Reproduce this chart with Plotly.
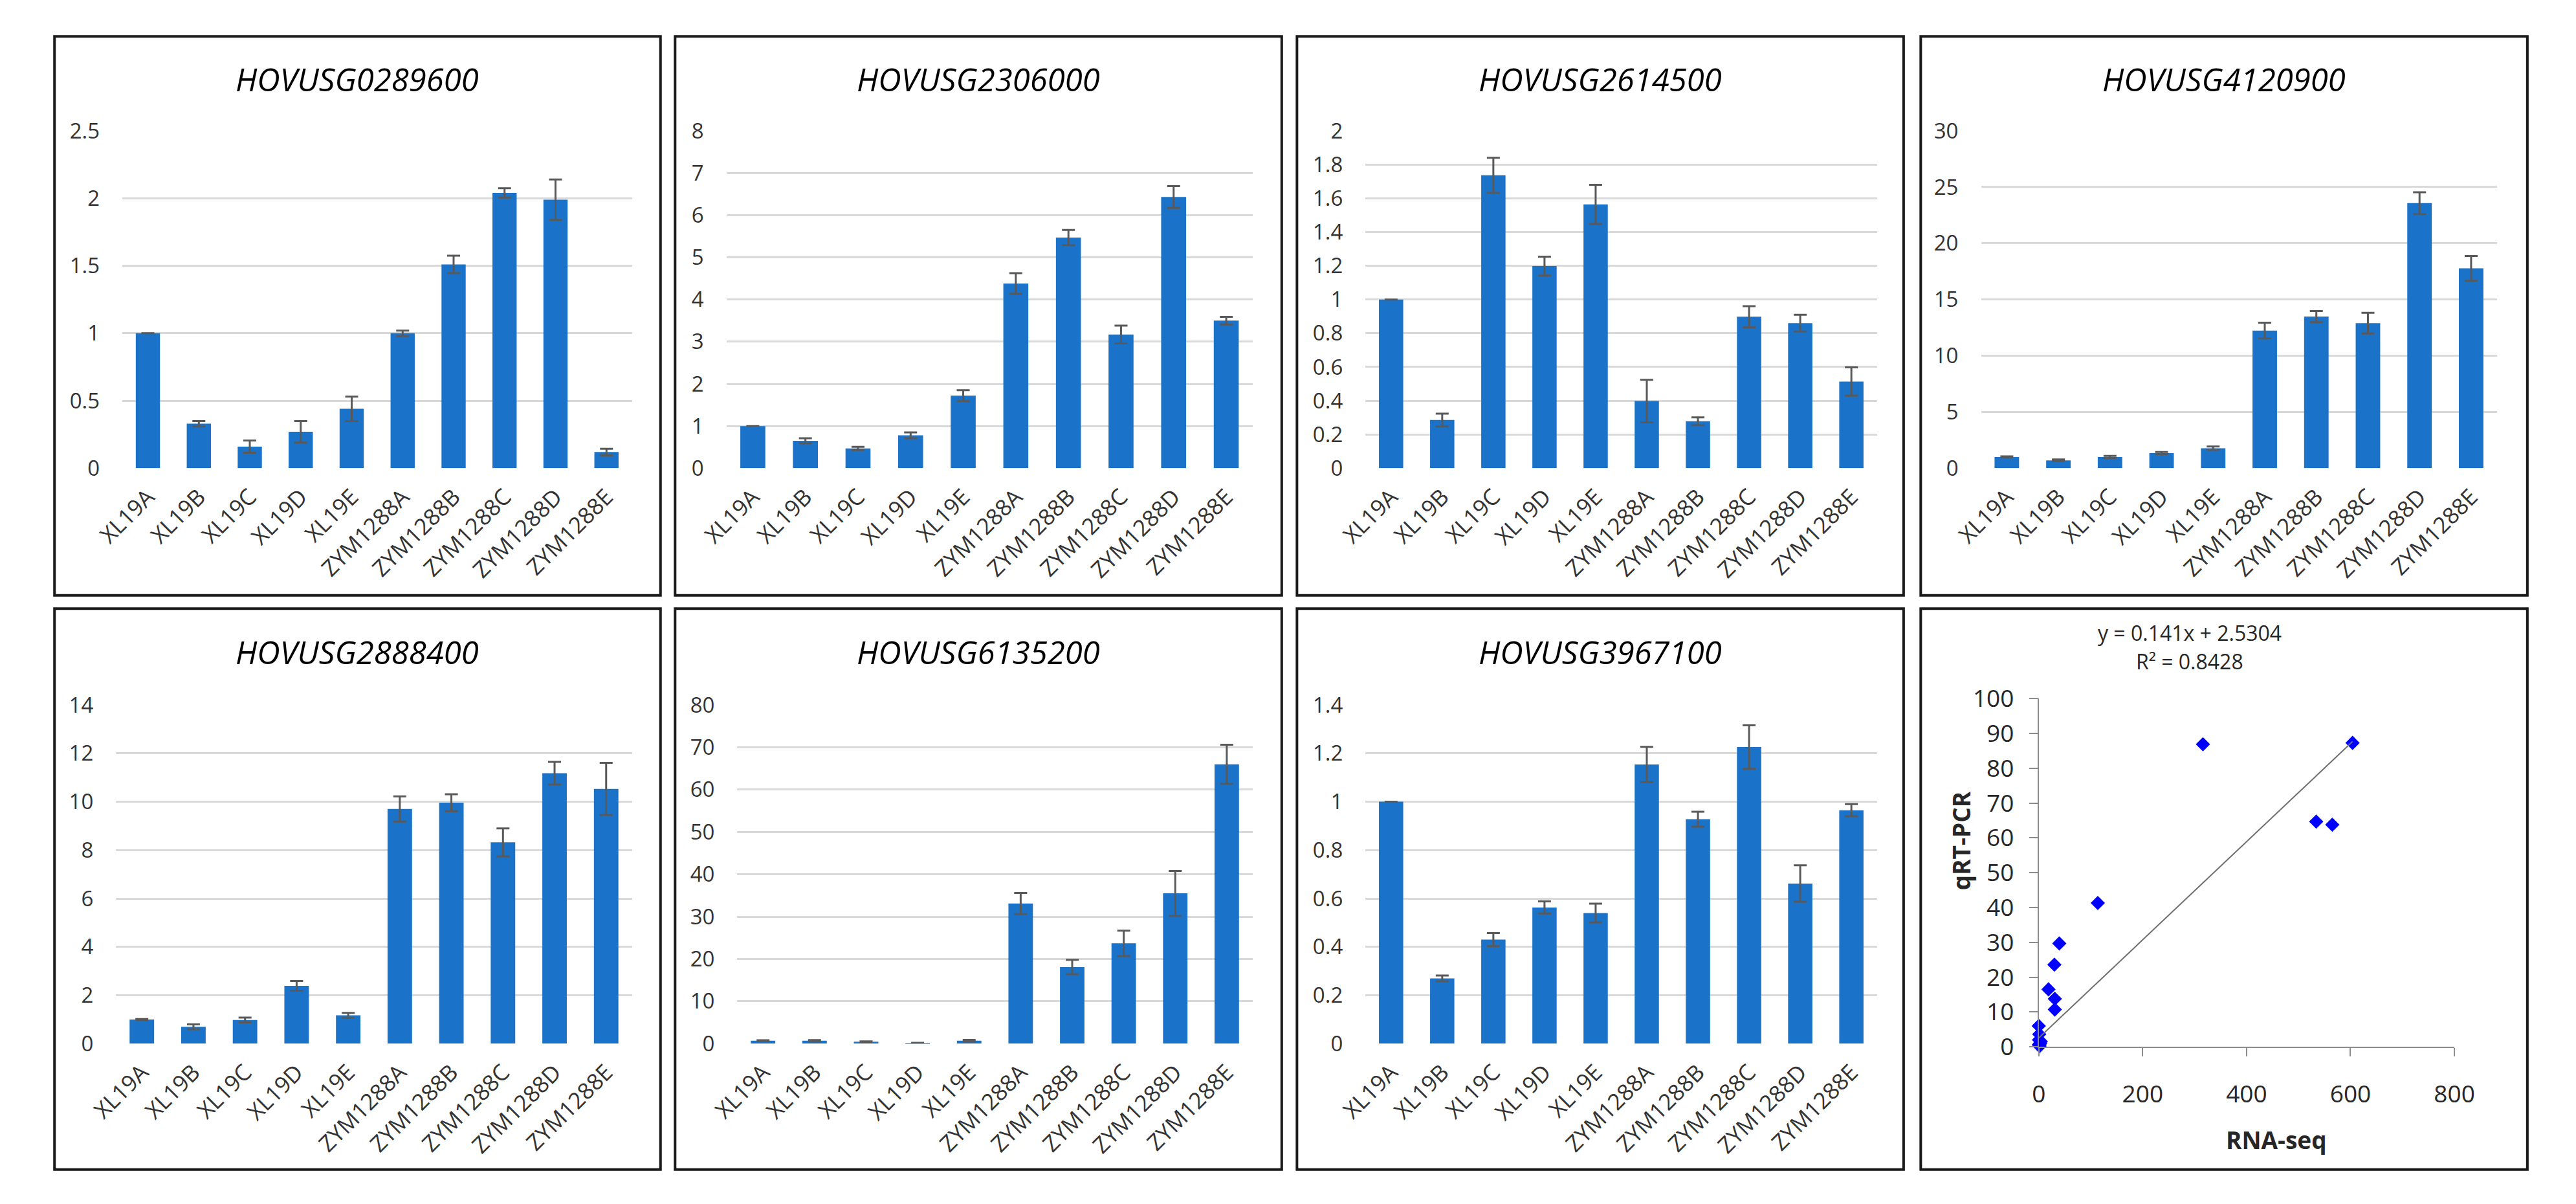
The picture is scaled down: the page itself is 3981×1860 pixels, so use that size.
import plotly.graph_objects as go

W, H = 3981, 1860

samples = ["XL19A", "XL19B", "XL19C", "XL19D", "XL19E",
           "ZYM1288A", "ZYM1288B", "ZYM1288C", "ZYM1288D", "ZYM1288E"]

genes = ["HOVUSG0289600", "HOVUSG2306000", "HOVUSG2614500", "HOVUSG4120900",
         "HOVUSG2888400", "HOVUSG6135200", "HOVUSG3967100"]

val_0289600 = [1.0, 0.33, 0.16, 0.27, 0.44, 1.0, 1.51, 2.04, 1.99, 0.12]
err_0289600 = [0.0, 0.02, 0.045, 0.08, 0.09, 0.02, 0.065, 0.035, 0.15, 0.025]

val_2306000 = [1.0, 0.65, 0.47, 0.78, 1.72, 4.38, 5.47, 3.17, 6.43, 3.50]
err_2306000 = [0.0, 0.06, 0.04, 0.07, 0.13, 0.245, 0.18, 0.21, 0.26, 0.09]

val_2614500 = [1.0, 0.286, 1.736, 1.198, 1.564, 0.398, 0.279, 0.898, 0.86, 0.514]
err_2614500 = [0.0, 0.038, 0.104, 0.056, 0.116, 0.126, 0.023, 0.063, 0.05, 0.084]

val_4120900 = [1.0, 0.7, 1.0, 1.34, 1.78, 12.24, 13.48, 12.9, 23.57, 17.77]
err_4120900 = [0.05, 0.08, 0.1, 0.1, 0.15, 0.7, 0.5, 0.92, 0.97, 1.1]

val_2888400 = [1.0, 0.70, 0.98, 2.39, 1.17, 9.70, 9.96, 8.32, 11.18, 10.53]
err_2888400 = [0.02, 0.1, 0.1, 0.2, 0.1, 0.52, 0.35, 0.58, 0.47, 1.08]

val_6135200 = [0.7, 0.7, 0.45, 0.15, 0.7, 33.1, 18.1, 23.7, 35.5, 66.0]
err_6135200 = [0.1, 0.15, 0.1, 0.05, 0.2, 2.5, 1.7, 3.0, 5.3, 4.6]

val_3967100 = [1.0, 0.27, 0.43, 0.563, 0.54, 1.154, 0.928, 1.226, 0.662, 0.965]
err_3967100 = [0.0, 0.012, 0.027, 0.025, 0.039, 0.073, 0.031, 0.09, 0.075, 0.025]

y_max = [2.5, 8, 2, 30, 14, 80, 1.4]
y_step = [0.5, 1, 0.2, 5, 2, 10, 0.2]

rna_seq = [316, 604, 534, 565, 113.6, 39.5, 30.1, 18.7, 30.9, 30.9,
           0, 1, 0.5, 3, 1.5, 0.2, 4, 2]
qrt_pcr = [86.9, 87.3, 64.7, 63.8, 41.3, 29.7, 23.6, 16.5, 13.8, 10.7,
           6.0, 3.6, 2.0, 1.1, 0.2, 0.6, 1.5, 0.8]
fit_slope = 0.141
fit_intercept = 2.5304
fit_r2 = 0.8428
fit_x = [0, 604]

values = [val_0289600, val_2306000, val_2614500, val_4120900,
          val_2888400, val_6135200, val_3967100]
errors = [err_0289600, err_2306000, err_2614500, err_4120900,
          err_2888400, err_6135200, err_3967100]

# layout in page pixels
borders = [(40, 30, 995, 918), (1018, 30, 1974, 918), (1998, 30, 2954, 918), (2981, 30, 3937, 918),
           (40, 939, 995, 1830), (1018, 939, 1974, 1830), (1998, 939, 2954, 1830), (2981, 939, 3937, 1830)]
plots = [(147, 180, 950, 716), (1099, 180, 1928, 716), (2106, 180, 2912, 716), (3076, 180, 3889, 716),
         (137, 1092, 950, 1630), (1116, 1092, 1928, 1630), (2106, 1092, 2912, 1630)]
title_y = [98, 98, 98, 98, 1008, 1008, 1008]
scatter_plot = (3167, 1082, 3822, 1635)

def xdom(a, b):
    return [a / W, b / W]

def ydom(t, b):
    return [1 - b / H, 1 - t / H]

BAR = "#1a73c8"
FONT = "Open Sans"
TICKC = "#333333"

fig = go.Figure()
layout = dict(width=W, height=H, margin=dict(l=0, r=0, t=0, b=0),
              paper_bgcolor="white", plot_bgcolor="white", showlegend=False,
              bargap=0.525)
annotations = []
shapes = []

for i, g in enumerate(genes):
    n = i + 1
    xa = "x" if n == 1 else f"x{n}"
    ya = "y" if n == 1 else f"y{n}"
    fig.add_trace(go.Bar(x=samples, y=values[i], marker=dict(color=BAR, line=dict(width=0)),
                         error_y=dict(type="data", array=errors[i], color="#595959",
                                      thickness=3, width=10),
                         xaxis=xa, yaxis=ya))
    l, t, r, b = plots[i]
    kx = "xaxis" if n == 1 else f"xaxis{n}"
    ky = "yaxis" if n == 1 else f"yaxis{n}"
    layout[kx] = dict(domain=xdom(l, r), anchor=ya, type="category", tickangle=-45,
                      showline=False, ticks="", showgrid=False,
                      ticklabelstandoff=16,
                      tickfont=dict(family=FONT, size=35, color=TICKC))
    layout[ky] = dict(domain=ydom(t, b), anchor=xa, range=[0, y_max[i]], dtick=y_step[i],
                      tick0=0, showgrid=True, gridcolor="#d9d9d9", gridwidth=3,
                      zeroline=False, showline=False, ticks="",
                      ticklabelstandoff=34,
                      tickfont=dict(family=FONT, size=33, color=TICKC))
    bl, bt, br, bb = borders[i]
    annotations.append(dict(text=g, xref="paper", yref="paper", x=(bl + br) / 2 / W,
                            y=1 - title_y[i] / H, xanchor="center", yanchor="middle",
                            showarrow=False,
                            font=dict(family=FONT, size=49, color="black", style="italic")))

# scatter panel
fig.add_trace(go.Scatter(x=rna_seq, y=qrt_pcr, mode="markers", xaxis="x8", yaxis="y8",
                         cliponaxis=False,
                         marker=dict(symbol="diamond", size=17, color="#0000ff",
                                     line=dict(width=0))))
fig.add_trace(go.Scatter(x=fit_x, y=[fit_slope * v + fit_intercept for v in fit_x],
                         mode="lines", xaxis="x8", yaxis="y8", cliponaxis=False,
                         line=dict(color="#6e6e6e", width=2)))
l, t, r, b = scatter_plot
layout["xaxis8"] = dict(domain=xdom(l, r), anchor="y8", range=[0, 800], dtick=200,
                        showgrid=False, zeroline=False, showline=True, linecolor="#8c8c8c",
                        linewidth=2, ticks="outside", ticklen=13, tickwidth=2, tickcolor="#8c8c8c",
                        ticklabelstandoff=26,
                        tickfont=dict(family=FONT, size=37, color="#262626"))
layout["yaxis8"] = dict(domain=ydom(t, b), anchor="x8", range=[0, 100], dtick=10,
                        showgrid=False, zeroline=False, showline=True, linecolor="#8c8c8c",
                        linewidth=2, ticks="outside", ticklen=13, tickwidth=2, tickcolor="#8c8c8c",
                        ticklabelstandoff=16,
                        tickfont=dict(family=FONT, size=37, color="#262626"))
annotations.append(dict(text="y = 0.141x + 2.5304", xref="paper", yref="paper",
                        x=3405 / W, y=1 - 977 / H, xanchor="center", yanchor="middle",
                        showarrow=False, font=dict(family=FONT, size=32, color="#262626")))
annotations.append(dict(text=f"R² = {fit_r2}", xref="paper", yref="paper",
                        x=3405 / W, y=1 - 1023 / H, xanchor="center", yanchor="middle",
                        showarrow=False, font=dict(family=FONT, size=32, color="#262626")))
annotations.append(dict(text="<b>RNA-seq</b>", xref="paper", yref="paper",
                        x=3541 / W, y=1 - 1782 / H, xanchor="center", yanchor="middle",
                        showarrow=False, font=dict(family=FONT, size=37, color="#262626")))
annotations.append(dict(text="<b>qRT-PCR</b>", xref="paper", yref="paper", textangle=-90,
                        x=3044 / W, y=1 - 1308 / H, xanchor="center", yanchor="middle",
                        showarrow=False, font=dict(family=FONT, size=37, color="#262626")))

for (bl, bt, br, bb) in borders:
    shapes.append(dict(type="rect", xref="paper", yref="paper",
                       x0=bl / W, x1=br / W, y0=1 - bb / H, y1=1 - bt / H,
                       line=dict(color="#1a1a1a", width=4), fillcolor="rgba(0,0,0,0)"))

layout["annotations"] = annotations
layout["shapes"] = shapes
fig.update_layout(**layout)

fig.write_html("out.html", config={"displayModeBar": False},
               post_script="document.body.style.margin='0';document.body.style.overflow='hidden';")
